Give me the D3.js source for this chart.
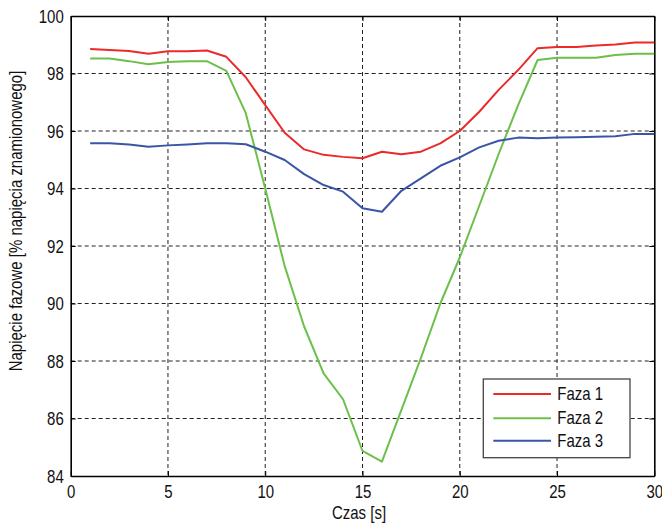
<!DOCTYPE html>
<html>
<head>
<meta charset="utf-8">
<script src="https://cdn.jsdelivr.net/npm/d3@7"></script>
<style>
  body { margin: 0; background: #fff; }
  text { font-family: "Liberation Sans", Arial, sans-serif; fill: #111; }
</style>
</head>
<body>
<svg id="chart" width="662" height="523"></svg>
<script>
// dane
const czas = d3.range(1, 31);
const faza1 = [98.85, 98.82, 98.78, 98.69, 98.77, 98.77, 98.8, 98.58, 97.87, 96.9,
  95.94, 95.36, 95.17, 95.1, 95.05, 95.28, 95.19, 95.28, 95.57, 96.0,
  96.67, 97.43, 98.12, 98.88, 98.92, 98.92, 98.97, 99.01, 99.08, 99.08];
const faza2 = [98.52, 98.52, 98.43, 98.32, 98.4, 98.43, 98.43, 98.09, 96.62, 94.0,
  91.3, 89.2, 87.57, 86.67, 84.87, 84.5, 86.3, 88.1, 90.0, 91.6,
  93.4, 95.2, 96.9, 98.47, 98.55, 98.55, 98.55, 98.64, 98.69, 98.69];
const faza3 = [95.57, 95.57, 95.53, 95.45, 95.5, 95.53, 95.57, 95.57, 95.54, 95.28,
  94.99, 94.5, 94.12, 93.89, 93.31, 93.19, 93.92, 94.35, 94.79, 95.08,
  95.43, 95.66, 95.77, 95.75, 95.77, 95.78, 95.8, 95.82, 95.9, 95.9];
const nazwy = ["Faza 1", "Faza 2", "Faza 3"];
const kolory = ["#ec2a2a", "#6cc04a", "#3a55a5"];
const xTicks = [0, 5, 10, 15, 20, 25, 30];
const yTicks = [84, 86, 88, 90, 92, 94, 96, 98, 100];

const svg = d3.select("#chart");
const m = { left: 70.7, right: 654.3, top: 16, bottom: 476 };

const x = d3.scaleLinear().domain([0, 30]).range([m.left, m.right]);
const y = d3.scaleLinear().domain([84, 100]).range([m.bottom, m.top]);

// siatka
const grid = svg.append("g")
  .attr("stroke", "#222")
  .attr("stroke-width", 1)
  .attr("stroke-dasharray", "4,3");
grid.selectAll("line.gx").data(xTicks.slice(1, -1)).join("line")
  .attr("x1", d => x(d)).attr("x2", d => x(d))
  .attr("y1", m.top).attr("y2", m.bottom);
grid.selectAll("line.gy").data(yTicks.slice(1, -1)).join("line")
  .attr("x1", m.left).attr("x2", m.right)
  .attr("y1", d => y(d)).attr("y2", d => y(d));

// osie
const ax = svg.append("g").attr("transform", `translate(0,${m.bottom})`)
  .call(d3.axisBottom(x).tickValues(xTicks).tickSizeInner(-5).tickSizeOuter(0));
const axTop = svg.append("g").attr("transform", `translate(0,${m.top})`)
  .call(d3.axisTop(x).tickValues(xTicks).tickSizeInner(-5).tickSizeOuter(0).tickFormat(""));
const ay = svg.append("g").attr("transform", `translate(${m.left},0)`)
  .call(d3.axisLeft(y).tickValues(yTicks).tickSizeInner(-5).tickSizeOuter(0).tickPadding(7));
const ayR = svg.append("g").attr("transform", `translate(${m.right},0)`)
  .call(d3.axisRight(y).tickValues(yTicks).tickSizeInner(-5).tickSizeOuter(0).tickFormat(""));

[ax, axTop, ay, ayR].forEach(a => {
  a.select(".domain").attr("stroke", "#000").attr("stroke-width", 1.6);
  a.selectAll(".tick line").attr("stroke", "#000");
});

ax.selectAll("text")
  .attr("y", null).attr("dy", null)
  .attr("font-size", 15)
  .attr("transform", "translate(0,22) scale(1,1.2)");
ay.selectAll("text")
  .attr("dy", null)
  .attr("font-size", 15)
  .attr("transform", "translate(0,6) scale(1,1.2)");

// linie danych
const seria = [faza1, faza2, faza3];
const line = d3.line().x((d, i) => x(czas[i])).y(d => y(d));
svg.append("g").selectAll("path").data(seria).join("path")
  .attr("d", line)
  .attr("fill", "none")
  .attr("stroke", (d, i) => kolory[i])
  .attr("stroke-width", 2)
  .attr("stroke-linejoin", "round");

// tytuły osi
svg.append("text")
  .attr("transform", "translate(359,519) scale(1,1.2)")
  .attr("text-anchor", "middle")
  .attr("font-size", 15)
  .text("Czas [s]");
svg.append("text")
  .attr("transform", "translate(22,221) rotate(-90) scale(1,1.2)")
  .attr("text-anchor", "middle")
  .attr("font-size", 15)
  .text("Napięcie fazowe [% napięcia znamionowego]");

// legenda
const lg = svg.append("g").attr("transform", "translate(483.3,379)");
lg.append("rect")
  .attr("width", 146.7).attr("height", 78.7)
  .attr("fill", "#fff").attr("stroke", "#444").attr("stroke-width", 1.3);
const rows = [15, 39.3, 61.7];
nazwy.forEach((n, i) => {
  lg.append("line")
    .attr("x1", 10).attr("x2", 67.7)
    .attr("y1", rows[i]).attr("y2", rows[i])
    .attr("stroke", kolory[i]).attr("stroke-width", 2);
  lg.append("text")
    .attr("transform", `translate(74,${rows[i] + 6}) scale(1,1.2)`)
    .attr("font-size", 15)
    .text(n);
});
</script>
</body>
</html>
